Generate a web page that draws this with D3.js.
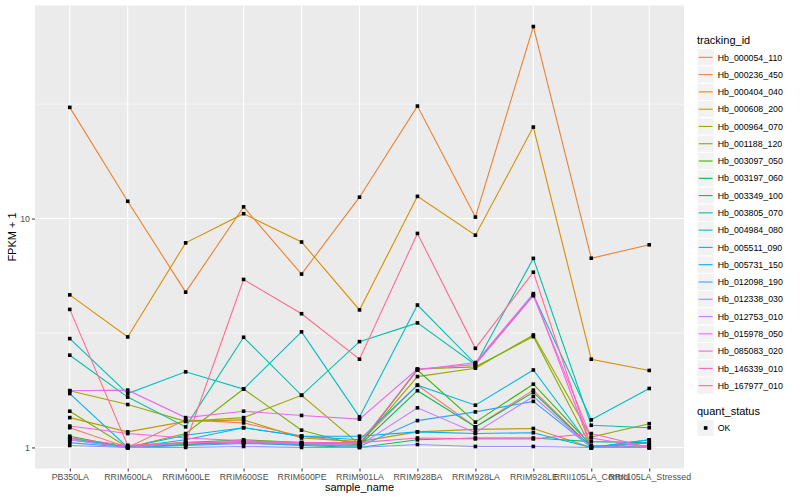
<!DOCTYPE html>
<html>
<head>
<meta charset="utf-8">
<script src="https://cdn.jsdelivr.net/npm/d3@7"></script>
<style>
  body { margin: 0; background: #fff; }
  svg { font-family: "Liberation Sans", Arial, sans-serif; }
</style>
</head>
<body>
<div id="chart"></div>
<script>
// categories on the x axis
const samples = ["PB350LA", "RRIM600LA", "RRIM600LE", "RRIM600SE", "RRIM600PE", "RRIM901LA",
                 "RRIM928BA", "RRIM928LA", "RRIM928LE", "RRII105LA_Control", "RRII105LA_Stressed"];

const trackingIds = ["Hb_000054_110", "Hb_000236_450", "Hb_000404_040", "Hb_000608_200", "Hb_000964_070",
                     "Hb_001188_120", "Hb_003097_050", "Hb_003197_060", "Hb_003349_100", "Hb_003805_070",
                     "Hb_004984_080", "Hb_005511_090", "Hb_005731_150", "Hb_012098_190", "Hb_012338_030",
                     "Hb_012753_010", "Hb_015978_050", "Hb_085083_020", "Hb_146339_010", "Hb_167977_010"];

// FPKM + 1 per sample
const hb_000054_110 = [1.22, 1.0, 1.32, 1.28, 1.12, 1.05, 1.87, 1.23, 1.78, 1.0, 1.0];
const hb_000236_450 = [30.6, 11.9, 4.77, 11.25, 5.72, 12.4, 31.0, 10.15, 69.0, 6.71, 7.68];
const hb_000404_040 = [4.64, 3.04, 7.83, 10.5, 7.9, 3.99, 12.5, 8.46, 25.1, 2.43, 2.17];
const hb_000608_200 = [1.35, 1.17, 1.30, 1.32, 1.10, 1.06, 1.17, 1.20, 1.21, 1.0, 1.05];
const hb_000964_070 = [1.77, 1.54, 1.30, 1.35, 1.69, 1.03, 2.04, 2.22, 3.10, 1.11, 1.27];
const hb_001188_120 = [1.44, 1.0, 1.15, 1.80, 1.19, 1.02, 2.20, 2.25, 3.05, 1.0, 1.05];
const hb_003097_050 = [1.12, 1.0, 1.05, 1.08, 1.05, 1.03, 2.18, 1.29, 1.89, 1.02, 1.0];
const hb_003197_060 = [1.10, 1.0, 1.03, 1.06, 1.03, 1.02, 1.77, 1.23, 1.74, 1.0, 1.02];
const hb_003349_100 = [1.08, 1.0, 1.03, 1.05, 1.02, 1.0, 1.08, 1.10, 1.10, 1.06, 1.05];
const hb_003805_070 = [2.53, 1.66, 1.23, 3.03, 1.69, 2.90, 3.50, 2.30, 6.70, 1.25, 1.22];
const hb_004984_080 = [2.99, 1.72, 2.14, 1.80, 3.20, 1.36, 4.19, 2.32, 4.63, 1.32, 1.81];
const hb_005511_090 = [1.10, 1.0, 1.08, 1.22, 1.12, 1.08, 1.87, 1.53, 2.18, 1.0, 1.08];
const hb_005731_150 = [1.72, 1.0, 1.13, 1.22, 1.12, 1.12, 1.17, 1.15, 1.16, 1.0, 1.08];
const hb_012098_190 = [1.05, 1.0, 1.02, 1.04, 1.03, 1.01, 1.31, 1.43, 1.59, 1.0, 1.05];
const hb_012338_030 = [1.02, 1.0, 1.0, 1.01, 1.0, 1.0, 1.03, 1.01, 1.01, 1.0, 1.0];
const hb_012753_010 = [1.08, 1.0, 1.05, 1.05, 1.04, 1.02, 1.49, 1.16, 1.67, 1.0, 1.02];
const hb_015978_050 = [1.77, 1.78, 1.35, 1.44, 1.38, 1.33, 2.20, 2.30, 4.60, 1.10, 1.0];
const hb_085083_020 = [1.24, 1.15, 1.10, 1.07, 1.05, 1.04, 2.18, 2.35, 4.70, 1.0, 1.0];
const hb_146339_010 = [1.10, 1.02, 1.05, 1.06, 1.05, 1.05, 1.10, 1.09, 1.09, 1.15, 1.0];
const hb_167977_010 = [4.01, 1.02, 1.05, 5.42, 3.84, 2.43, 8.61, 2.71, 5.83, 1.0, 1.0];

const seriesValues = [hb_000054_110, hb_000236_450, hb_000404_040, hb_000608_200, hb_000964_070,
                      hb_001188_120, hb_003097_050, hb_003197_060, hb_003349_100, hb_003805_070,
                      hb_004984_080, hb_005511_090, hb_005731_150, hb_012098_190, hb_012338_030,
                      hb_012753_010, hb_015978_050, hb_085083_020, hb_146339_010, hb_167977_010];

const quantStatus = ["OK"];
const yTicks = [1, 10];
const yMinor = [Math.sqrt(10), Math.sqrt(1000)];

// ggplot hue palette for 20 groups
const palette = ["#F8766D", "#EA8331", "#D89000", "#C09B00", "#A3A500", "#7CAE00", "#39B600", "#00BB4E",
                 "#00BF7D", "#00C1A3", "#00BFC4", "#00BAE0", "#00B0F6", "#35A2FF", "#9590FF", "#C77CFF",
                 "#E76BF3", "#FA62DB", "#FF62BC", "#FF6C91"];

const width = 800, height = 500;
const panel = {left: 35, right: 684, top: 5.5, bottom: 468.5};

const series = trackingIds.map((id, i) => ({
  id,
  color: palette[i],
  values: samples.map((s, j) => ({sample: s, value: seriesValues[i][j]}))
}));

const svg = d3.select("#chart").append("svg")
  .attr("width", width)
  .attr("height", height);

// scales
const x = d3.scalePoint()
  .domain(samples)
  .range([panel.left, panel.right])
  .padding(0.6);

const allVals = seriesValues.flat();
const lo = Math.log10(d3.min(allVals)), hi = Math.log10(d3.max(allVals));
const pad = (hi - lo) * 0.05;
const y = d3.scaleLog()
  .domain([Math.pow(10, lo - pad), Math.pow(10, hi + pad)])
  .range([panel.bottom, panel.top]);

// panel background and grid
svg.append("rect")
  .attr("x", panel.left).attr("y", panel.top)
  .attr("width", panel.right - panel.left)
  .attr("height", panel.bottom - panel.top)
  .attr("fill", "#EBEBEB");

svg.append("g")
  .selectAll("line")
  .data(yMinor)
  .join("line")
    .attr("x1", panel.left).attr("x2", panel.right)
    .attr("y1", d => y(d)).attr("y2", d => y(d))
    .attr("stroke", "#fff").attr("stroke-width", 0.55);

svg.append("g")
  .selectAll("line")
  .data(yTicks)
  .join("line")
    .attr("x1", panel.left).attr("x2", panel.right)
    .attr("y1", d => y(d)).attr("y2", d => y(d))
    .attr("stroke", "#fff").attr("stroke-width", 1.1);

svg.append("g")
  .selectAll("line")
  .data(samples)
  .join("line")
    .attr("x1", d => x(d)).attr("x2", d => x(d))
    .attr("y1", panel.top).attr("y2", panel.bottom)
    .attr("stroke", "#fff").attr("stroke-width", 1.1);

// axes
svg.append("g")
  .attr("transform", `translate(0,${panel.bottom})`)
  .call(d3.axisBottom(x).tickSize(3).tickPadding(2))
  .call(g => g.select(".domain").remove())
  .call(g => g.selectAll(".tick line").attr("stroke", "#333"))
  .call(g => g.selectAll(".tick text")
      .attr("fill", "#4D4D4D")
      .attr("font-size", 8.8)
      .attr("font-family", "Liberation Sans, Arial, sans-serif"));

svg.append("g")
  .attr("transform", `translate(${panel.left},0)`)
  .call(d3.axisLeft(y).tickValues(yTicks).tickFormat(d3.format("d")).tickSize(3).tickPadding(2))
  .call(g => g.select(".domain").remove())
  .call(g => g.selectAll(".tick line").attr("stroke", "#333"))
  .call(g => g.selectAll(".tick text")
      .attr("fill", "#4D4D4D")
      .attr("font-size", 8.8)
      .attr("font-family", "Liberation Sans, Arial, sans-serif"));

svg.append("text")
  .attr("x", (panel.left + panel.right) / 2)
  .attr("y", 491)
  .attr("text-anchor", "middle")
  .attr("font-size", 11)
  .text("sample_name");

svg.append("text")
  .attr("transform", `translate(16,${(panel.top + panel.bottom) / 2}) rotate(-90)`)
  .attr("text-anchor", "middle")
  .attr("font-size", 11)
  .text("FPKM + 1");

// lines
const line = d3.line()
  .x(d => x(d.sample))
  .y(d => y(d.value));

svg.append("g")
  .attr("fill", "none")
  .attr("stroke-width", 1.1)
  .selectAll("path")
  .data(series)
  .join("path")
    .attr("stroke", d => d.color)
    .attr("d", d => line(d.values));

// points
svg.append("g")
  .selectAll("rect")
  .data(series.flatMap(s => s.values))
  .join("rect")
    .attr("x", d => x(d.sample) - 1.8)
    .attr("y", d => y(d.value) - 1.8)
    .attr("width", 3.6)
    .attr("height", 3.6)
    .attr("fill", "#000");

// legend: tracking_id
const legX = 697, keySize = 17.28;
const leg = svg.append("g");
leg.append("text")
  .attr("x", legX).attr("y", 44)
  .attr("font-size", 11)
  .text("tracking_id");

const items = leg.selectAll("g.item")
  .data(series)
  .join("g")
    .attr("class", "item")
    .attr("transform", (d, i) => `translate(${legX},${48.7 + i * keySize})`);

items.append("rect")
  .attr("width", keySize).attr("height", keySize)
  .attr("fill", "#F2F2F2").attr("stroke", "#fff").attr("stroke-width", 1);
items.append("line")
  .attr("x1", 1.7).attr("x2", keySize - 1.7)
  .attr("y1", keySize / 2).attr("y2", keySize / 2)
  .attr("stroke", d => d.color).attr("stroke-width", 1.1);
items.append("text")
  .attr("x", keySize + 3.5).attr("y", keySize / 2 + 3.2)
  .attr("font-size", 8.8)
  .text(d => d.id);

// legend: quant_status
const leg2Top = 48.7 + trackingIds.length * keySize + 12;
leg.append("text")
  .attr("x", legX).attr("y", leg2Top + 9)
  .attr("font-size", 11)
  .text("quant_status");

const q = leg.selectAll("g.q")
  .data(quantStatus)
  .join("g")
    .attr("class", "q")
    .attr("transform", (d, i) => `translate(${legX},${leg2Top + 13 + i * keySize})`);
q.append("rect")
  .attr("width", keySize).attr("height", keySize)
  .attr("fill", "#F2F2F2").attr("stroke", "#fff");
q.append("rect")
  .attr("x", keySize / 2 - 1.8).attr("y", keySize / 2 - 1.8)
  .attr("width", 3.6).attr("height", 3.6)
  .attr("fill", "#000");
q.append("text")
  .attr("x", keySize + 3.5).attr("y", keySize / 2 + 3.2)
  .attr("font-size", 8.8)
  .text(d => d);
</script>
</body>
</html>
